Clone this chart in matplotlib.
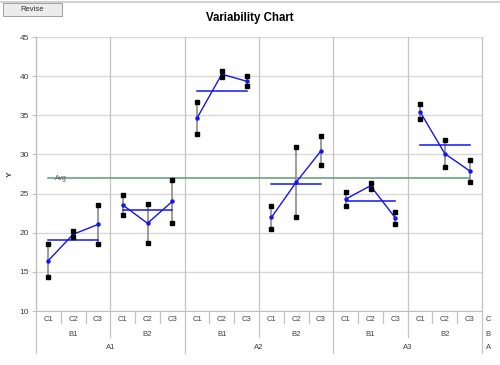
import matplotlib
matplotlib.use("Agg")
import matplotlib.pyplot as plt
import matplotlib.transforms as mtransforms
from matplotlib.patches import Rectangle
import numpy as np

plt.rcParams['font.family'] = ['Liberation Sans', 'DejaVu Sans']

# factor levels
a_levels = ["A1", "A2", "A3"]
b_levels = ["B1", "B2"]
c_levels = ["C1", "C2", "C3"]

# two observations per A/B/C cell, in plotting order
obs_1 = [18.5, 20.2, 23.6, 24.8, 23.7, 26.7, 36.7, 40.6, 40.0,
         23.4, 30.9, 32.3, 25.2, 26.4, 22.7, 36.4, 31.8, 29.3]
obs_2 = [14.4, 19.4, 18.5, 22.3, 18.7, 21.3, 32.6, 39.9, 38.7,
         20.5, 22.0, 28.6, 23.4, 25.6, 21.1, 34.5, 28.4, 26.5]

y_ticks = [10, 15, 20, 25, 30, 35, 40, 45]

o1 = np.array(obs_1)
o2 = np.array(obs_2)
cell_mean = (o1 + o2) / 2
grand_avg = np.concatenate([o1, o2]).mean()

n_c = len(c_levels)
n_b = len(b_levels)
n_cells = len(a_levels) * n_b * n_c
xs = np.arange(n_cells)

fig = plt.figure(figsize=(5.0, 3.65), dpi=100)
ax = fig.add_axes([36 / 500, 1 - 311 / 365, 446 / 500, 274 / 365])

grid_h = "#d9d9d9"
grid_v = "#c4c4c4"
blue = "#1515f0"

ax.set_xlim(-0.5, n_cells - 0.5)
ax.set_ylim(10, 45)
ax.set_yticks(y_ticks)
ax.tick_params(axis='y', labelsize=6, length=3, color="#bfbfbf", pad=2, labelcolor="#404040")
ax.set_xticks([])
for ytk in y_ticks:
    ax.axhline(ytk, color=grid_h, lw=1.0, zorder=0)
for s in ["top", "right"]:
    ax.spines[s].set_visible(False)
ax.spines["left"].set_color("#bfbfbf")
ax.spines["bottom"].set_color("#bfbfbf")

# group boundary lines (inside plot and down through the labels)
blend = mtransforms.blended_transform_factory(ax.transData, ax.transAxes)
for k in range(n_cells + 1):
    xb = k - 0.5
    if k % (n_b * n_c) == 0:
        y0 = -0.153
    elif k % n_c == 0:
        y0 = -0.095
    else:
        y0 = -0.044
    y1 = 1.0 if k % n_c == 0 else 0.0
    ax.plot([xb, xb], [y0, y1], transform=blend, color=grid_v, lw=0.9,
            clip_on=False, zorder=0.5)

# category labels
lab_kw = dict(transform=blend, ha="center", va="center", fontsize=5.5, color="#404040")
for i in xs:
    ax.text(i, -0.03, c_levels[i % n_c], **lab_kw)
for j in range(len(a_levels) * n_b):
    ax.text(j * n_c + (n_c - 1) / 2, -0.084, b_levels[j % n_b], **lab_kw)
for j in range(len(a_levels)):
    ax.text(j * n_b * n_c + (n_b * n_c - 1) / 2, -0.135, a_levels[j], **lab_kw)
for yy, nm in zip([-0.03, -0.084, -0.135], ["C", "B", "A"]):
    ax.text(1.014, yy, nm, transform=ax.transAxes, ha="center", va="center",
            fontsize=5.5, color="#404040")

# grand average
ax.plot([xs[0], xs[-1]], [grand_avg, grand_avg], color="#5a9e74", lw=1.1, zorder=2)
ax.text(0.27, grand_avg, "Avg", fontsize=5, color="#595959", va="center", ha="left", zorder=3)

# range bars, raw points, cell means and group means
for g in range(len(a_levels) * n_b):
    idx = xs[g * n_c:(g + 1) * n_c]
    for i in idx:
        ax.plot([i, i], [o1[i], o2[i]], color="#8c8c8c", lw=1.2, zorder=3)
    gm = cell_mean[idx].mean()
    ax.plot([idx[0], idx[-1]], [gm, gm], color=blue, lw=1.1, zorder=4)
    ax.plot(idx, cell_mean[idx], color=blue, lw=1.0, marker="o", ms=2.2, zorder=5)
ax.plot(xs, o1, ls="none", marker="s", ms=3.0, color="black", zorder=6)
ax.plot(xs, o2, ls="none", marker="s", ms=3.0, color="black", zorder=6)

ax.set_ylabel("Y", fontsize=6, color="#404040", fontweight="bold")
ax.yaxis.set_label_coords(-0.049, 0.5)

# title
fig.text(0.5, 1 - 17.5 / 365, "Variability Chart", ha="center", va="center",
         fontsize=8.3, fontweight="bold")

# top border and button
fig.add_artist(plt.Line2D([0, 1], [1 - 2 / 365, 1 - 2 / 365], color="#c8c8c8", lw=1.2))
fig.add_artist(Rectangle((3 / 500, 1 - 16 / 365), 59 / 500, 13 / 365, facecolor="#ececec",
                         edgecolor="#a0a0a0", lw=0.7, transform=fig.transFigure))
fig.text(32 / 500, 1 - 9.5 / 365, "Revise", ha="center", va="center", fontsize=5.5, color="#303030")

fig.savefig("out.png", dpi=100)
